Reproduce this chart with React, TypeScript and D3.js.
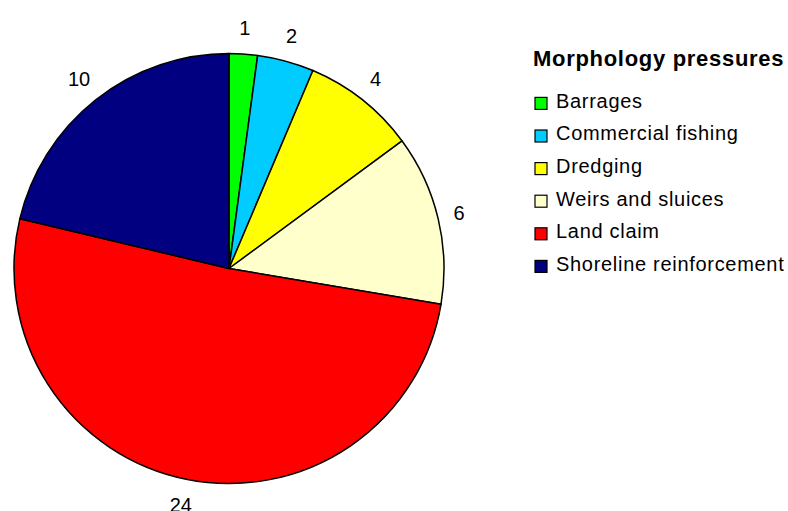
import React from "react";
import * as d3 from "d3";

const categories = ["Barrages", "Commercial fishing", "Dredging", "Weirs and sluices", "Land claim", "Shoreline reinforcement"];
const values = [1, 2, 4, 6, 24, 10];
const colors = ["#00FF00", "#00CCFF", "#FFFF00", "#FFFFCC", "#FF0000", "#000080"];
const legendTitle = "Morphology pressures";

const W = 788;
const H = 511;
const cx = 229;
const cy = 268.5;
const r = 215;
const labelR = 229;
const fontFamily = "Liberation Sans, Arial, sans-serif";

export default function App() {
  const pie = d3.pie<number>().sort(null).value((d) => d)(values);
  const arc = d3.arc<d3.PieArcDatum<number>>().innerRadius(0).outerRadius(r);

  return (
    <svg width={W} height={H} style={{ position: "absolute", left: 0, top: 0, background: "#fff" }} fontFamily={fontFamily}>
      <g transform={`translate(${cx},${cy})`}>
        {pie.map((p, i) => (
          <path key={i} d={arc(p) || ""} fill={colors[i]} stroke="#000" strokeWidth={1.5} strokeLinejoin="round" />
        ))}
        {pie.map((p, i) => {
          const a = (p.startAngle + p.endAngle) / 2;
          const s = Math.sin(a);
          const c = Math.cos(a);
          const txt = String(values[i]);
          const w = txt.length * 11 + 4;
          const h = 25;
          const x = labelR * s + (s * w) / 2;
          const y = -labelR * c - (c * h) / 2;
          return (
            <text key={i} x={x} y={y} textAnchor="middle" dominantBaseline="central" fontSize={20} fill="#000">
              {txt}
            </text>
          );
        })}
      </g>
      <g>
        <text x={533} y={66} fontSize={22} fontWeight="bold" letterSpacing={0.7} fill="#000">
          {legendTitle}
        </text>
        {categories.map((cat, i) => {
          const base = 107.7 + i * 32.6;
          return (
            <g key={cat}>
              <rect x={535} y={base - 10.3} width={12} height={12} fill={colors[i]} stroke="#000" strokeWidth={1.2} />
              <text x={556} y={base} fontSize={20} letterSpacing={0.7} fill="#000">
                {cat}
              </text>
            </g>
          );
        })}
      </g>
    </svg>
  );
}
